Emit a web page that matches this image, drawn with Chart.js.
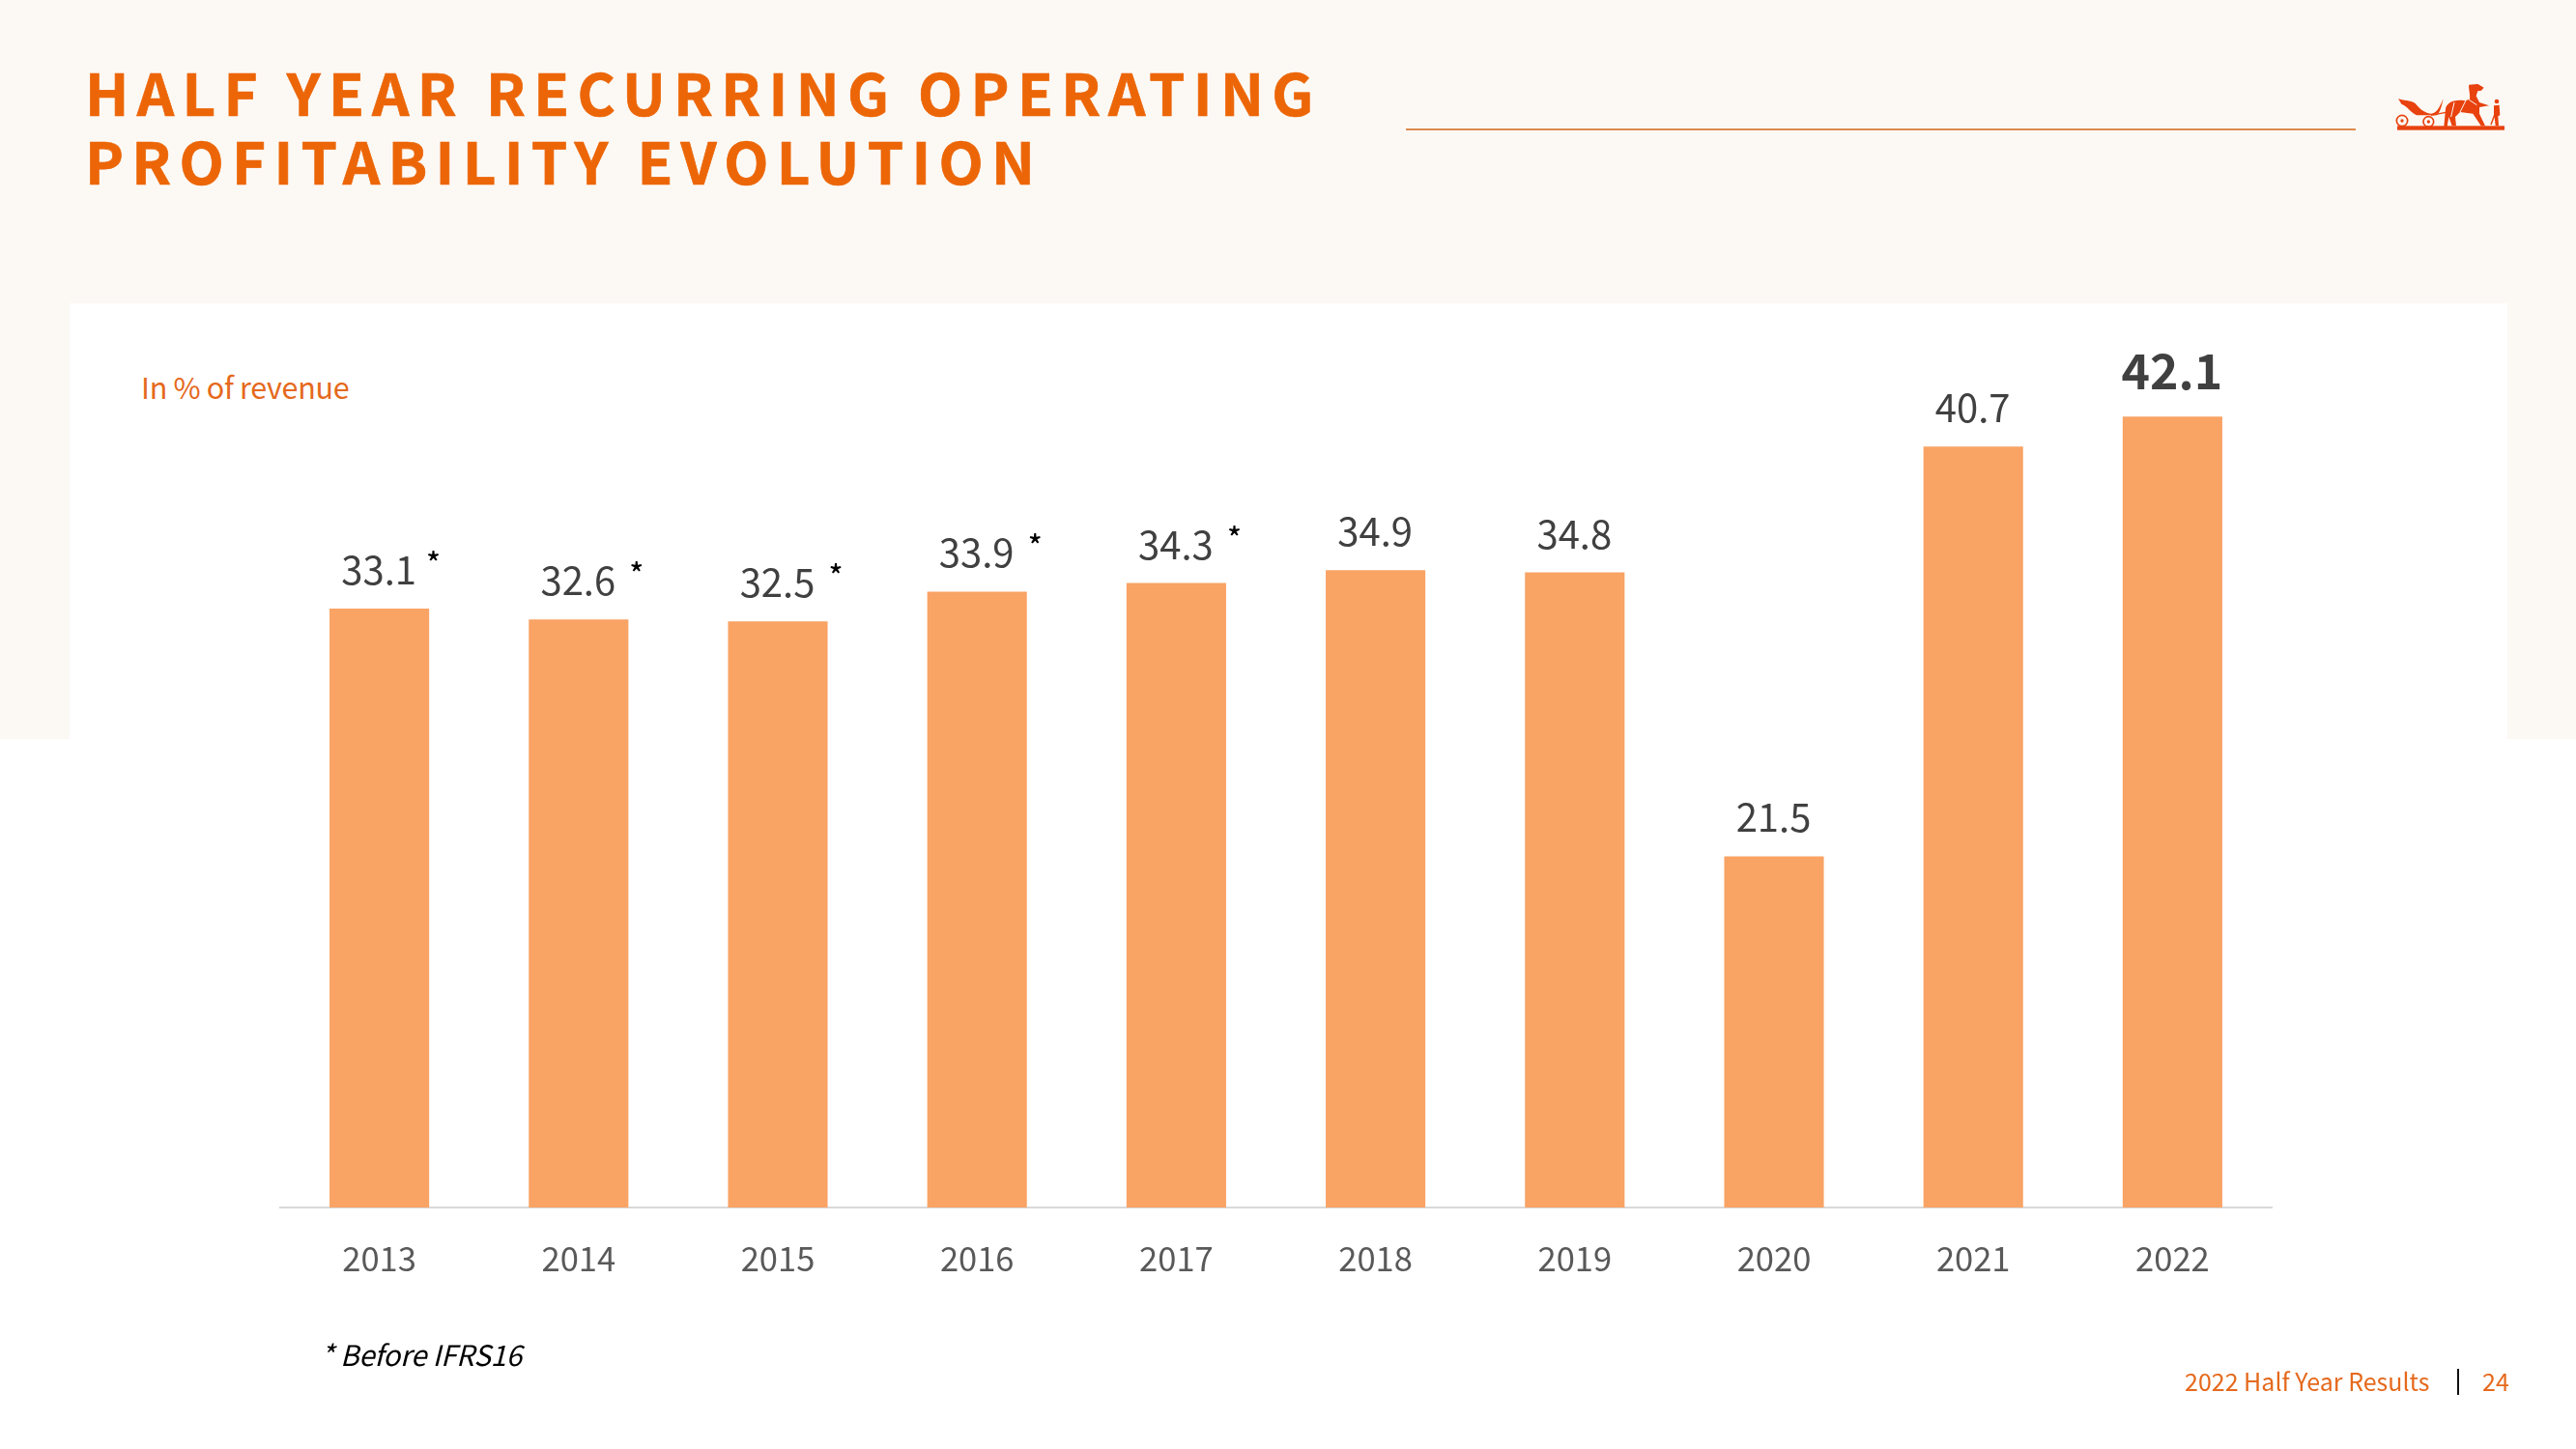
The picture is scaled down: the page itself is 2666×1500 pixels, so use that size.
<!DOCTYPE html>
<html><head><meta charset="utf-8">
<script src="https://cdn.jsdelivr.net/npm/chart.js@4"></script>
<style>
html,body{margin:0;padding:0;background:#fff}
#page{position:relative;width:2666px;height:1500px;overflow:hidden;background:#fff;font-family:"Noto Sans CJK JP","Noto Sans",sans-serif}
#bandTop{position:absolute;left:0;top:0;width:2666px;height:765px;background:#FCF9F5}
#panel{position:absolute;left:72px;top:314px;width:2523px;height:451px;background:#fff}
#chartBox{position:absolute;left:0;top:0;width:2666px;height:1500px}
.t{position:absolute;white-space:nowrap;line-height:1}
#title1,#title2{left:88px;font-size:60px;font-weight:700;letter-spacing:8.3px;color:#EC6608;-webkit-text-stroke:.7px #EC6608}
#title1{top:64px}#title2{top:135px}
#rule{position:absolute;left:1455px;top:133px;width:983px;height:1.5px;background:#DE8A4C}
#unit{left:146px;top:385px;font-size:30.5px;font-weight:400;color:#E5691C;letter-spacing:-.3px}
#note{left:332px;top:1387px;font-size:29.5px;font-style:italic;font-weight:400;color:#000;letter-spacing:-.2px}
#foot{left:2261px;top:1417px;font-size:25px;color:#E5691C}
#pipe{position:absolute;left:2543px;top:1417px;width:1.5px;height:27px;background:#111}
#num{left:2569px;top:1417px;font-size:25px;color:#E5691C}
#logo{position:absolute;left:2466px;top:76px;width:130px;height:65px}
</style></head><body>
<div id="page">
 <div id="bandTop"></div><div id="panel"></div>
 <div class="t" id="title1">HALF YEAR RECURRING OPERATING</div>
 <div class="t" id="title2">PROFITABILITY EVOLUTION</div>
 <div id="rule"></div>
 <svg id="logo" viewBox="0 0 390 195" fill="#E8420E">
  <rect x="45" y="163" width="333" height="13"/>
  <path d="M48 78 C62 84 86 84 100 92 C112 106 126 122 150 125 C166 124 176 108 188 78 C183 100 178 122 168 130 L105 130 C86 120 76 102 58 95 Z"/>
  <circle cx="60" cy="147" r="17" fill="none" stroke="#E8420E" stroke-width="5"/><circle cx="60" cy="147" r="5"/>
  <circle cx="142" cy="150" r="16" fill="none" stroke="#E8420E" stroke-width="5"/><circle cx="142" cy="150" r="5"/>
  <path d="M150 130 L222 116" fill="none" stroke="#E8420E" stroke-width="4"/>
  <path d="M190 165 L195 110 C200 88 225 80 255 85 L270 80 C272 60 265 45 268 35 L295 33 L314 44 L306 53 L295 55 L290 70 L300 90 L330 100 L300 105 L300 125 L318 163 L305 163 L280 125 L240 120 L225 135 L228 163 L215 163 L205 135 L200 165 Z"/>
  <path d="M222 90 L212 135 M258 84 L240 120 M268 82 L292 98" fill="none" stroke="#FCF9F5" stroke-width="3"/>
  <circle cx="354" cy="87" r="7"/>
  <path d="M345 100 L362 98 L364 130 L358 133 L360 163 L350 163 L347 136 L338 160 L334 158 L345 128 Z"/>
 </svg>
 <div class="t" id="unit">In % of revenue</div>
 <div id="chartBox"><canvas id="c" width="2666" height="1500"></canvas></div>
 <div class="t" id="note">* Before IFRS16</div>
 <div class="t" id="foot">2022 Half Year Results</div><div id="pipe"></div><div class="t" id="num">24</div>
</div>
<script>
const categories=["2013","2014","2015","2016","2017","2018","2019","2020","2021","2022"];
const values=[33.1,32.6,32.5,33.9,34.3,34.9,34.8,21.5,40.7,42.1];
const beforeIfrs=[true,true,true,true,true,false,false,false,false,false];
const FONT='"Noto Sans CJK JP","Noto Sans",sans-serif';
const labelPlugin={id:'labels',afterDatasetsDraw(chart){
 const ctx=chart.ctx,meta=chart.getDatasetMeta(0);
 ctx.save();ctx.textAlign='center';ctx.textBaseline='alphabetic';
 meta.data.forEach((bar,i)=>{
  const last=i===values.length-1,txt=values[i].toFixed(1);
  ctx.fillStyle='#404040';
  ctx.font=(last?'700 50px ':'400 40px ')+FONT;
  ctx.fillText(txt,bar.x-0.5,bar.y-(last?28:25));
  if(beforeIfrs[i]){
   ctx.fillStyle='#000';
   ctx.font='500 30px '+FONT;
   ctx.fillText('*',bar.x+(i===0?56:60),bar.y-36);
  }
 });
 ctx.restore();
}};
Chart.defaults.animation=false;
new Chart(document.getElementById('c'),{
 type:'bar',
 data:{labels:categories,datasets:[{data:values,backgroundColor:'#F9A365',borderWidth:0,barPercentage:.5,categoryPercentage:1}]},
 options:{responsive:false,animation:false,
  layout:{padding:{left:289.5,right:314.5,top:366,bottom:150}},
  plugins:{legend:{display:false},tooltip:{enabled:false},title:{display:false}},
  scales:{
   x:{grid:{display:false,drawTicks:false},border:{display:true,color:'#D9D9D9',width:2},
      ticks:{color:'#595959',font:{family:FONT,size:34.5,weight:'400'},padding:32,maxRotation:0,autoSkip:false},
      afterFit(s){s.height=100}},
   y:{display:false,min:5.05,max:45.05}
  }},
 plugins:[labelPlugin]
});
</script>
</body></html>
